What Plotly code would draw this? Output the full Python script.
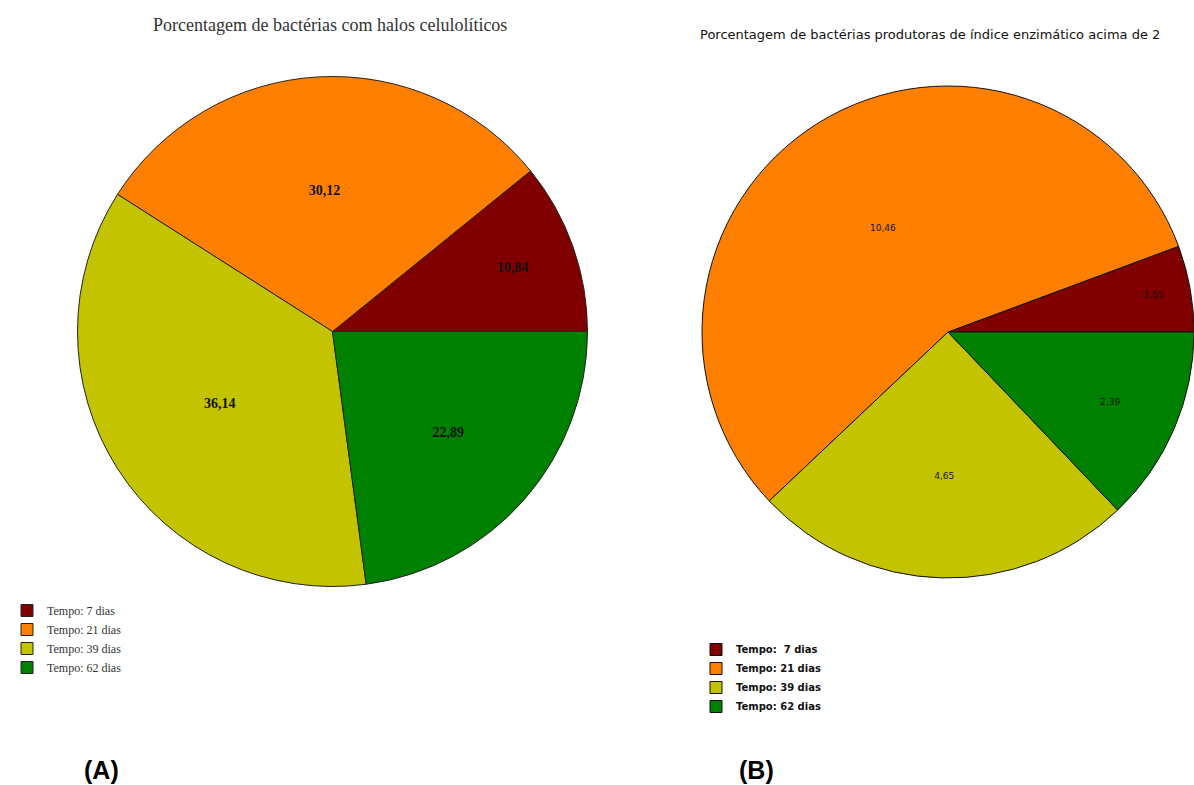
import plotly.graph_objects as go

# Dataset: share of cellulolytic bacteria by incubation time
categorias = ["Tempo: 7 dias", "Tempo: 21 dias", "Tempo: 39 dias", "Tempo: 62 dias"]
categorias_b = ["Tempo:  7 dias", "Tempo: 21 dias", "Tempo: 39 dias", "Tempo: 62 dias"]
halos_celuloliticos = [10.84, 30.12, 36.14, 22.89]
indice_acima_2 = [1.05, 10.46, 4.65, 2.39]
cores = ["#800000", "#ff8000", "#c3c300", "#008000"]

titulo_a = "Porcentagem de bactérias com halos celulolíticos"
titulo_b = "Porcentagem de bactérias produtoras de índice enzimático acima de 2"

W, H = 1194, 785


def rotulo(v):
    return f"{v:.2f}".replace(".", ",")


def dominio(cx, cy, r):
    return dict(x=[max(0, (cx - r) / W), min(1, (cx + r) / W)],
                y=[max(0, (H - cy - r) / H), min(1, (H - cy + r) / H)])


def rotacao(valores):
    # first slice sits just above the 3 o'clock radius, the rest follow counterclockwise
    return 90 - 360 * valores[0] / sum(valores)


fig = go.Figure()

fig.add_trace(go.Pie(
    labels=categorias,
    values=halos_celuloliticos,
    text=[rotulo(v) for v in halos_celuloliticos],
    textinfo="text",
    textposition="inside",
    insidetextorientation="horizontal",
    textfont=dict(family="Liberation Serif", size=14, color="#111111", weight="bold"),
    marker=dict(colors=cores, line=dict(color="#222222", width=1)),
    sort=False,
    direction="counterclockwise",
    rotation=rotacao(halos_celuloliticos),
    domain=dominio(332.5, 331.5, 255),
    legend="legend",
    legendgroup="a",
    hoverinfo="label+value",
))

fig.add_trace(go.Pie(
    labels=categorias_b,
    values=indice_acima_2,
    text=[rotulo(v) for v in indice_acima_2],
    textinfo="text",
    textposition="inside",
    insidetextorientation="horizontal",
    textfont=dict(family="DejaVu Sans", size=9, color="#111111"),
    marker=dict(colors=cores, line=dict(color="#111111", width=1)),
    sort=False,
    direction="counterclockwise",
    rotation=rotacao(indice_acima_2),
    domain=dominio(948, 332, 246),
    legend="legend2",
    legendgroup="b",
    hoverinfo="label+value",
))

fig.update_layout(
    width=W,
    height=H,
    margin=dict(l=0, r=0, t=0, b=0),
    paper_bgcolor="white",
    plot_bgcolor="white",
    showlegend=True,
    legend=dict(
        x=7 / W, y=1 - 596 / H, xanchor="left", yanchor="top",
        font=dict(family="Liberation Serif", size=12, color="#333333"),
        bgcolor="rgba(0,0,0,0)", tracegroupgap=0,
    ),
    legend2=dict(
        x=696 / W, y=1 - 635 / H, xanchor="left", yanchor="top",
        font=dict(family="DejaVu Sans", size=10, color="#111111", weight="bold"),
        bgcolor="rgba(0,0,0,0)", tracegroupgap=0,
    ),
    annotations=[
        dict(text=titulo_a, x=330 / W, y=1 - 25 / H, xref="paper", yref="paper",
             xanchor="center", yanchor="middle", showarrow=False,
             font=dict(family="Liberation Serif", size=18, color="#333333")),
        dict(text=titulo_b, x=698 / W, y=1 - 35 / H, xref="paper", yref="paper",
             xanchor="left", yanchor="middle", showarrow=False,
             font=dict(family="DejaVu Sans", size=13, color="#111111")),
        dict(text="(A)", x=101 / W, y=1 - 770 / H, xref="paper", yref="paper",
             xanchor="center", yanchor="middle", showarrow=False,
             font=dict(family="Liberation Sans", size=25, color="#000000", weight="bold")),
        dict(text="(B)", x=756 / W, y=1 - 770 / H, xref="paper", yref="paper",
             xanchor="center", yanchor="middle", showarrow=False,
             font=dict(family="Liberation Sans", size=25, color="#000000", weight="bold")),
    ],
)

fig.write_html("out.html")
